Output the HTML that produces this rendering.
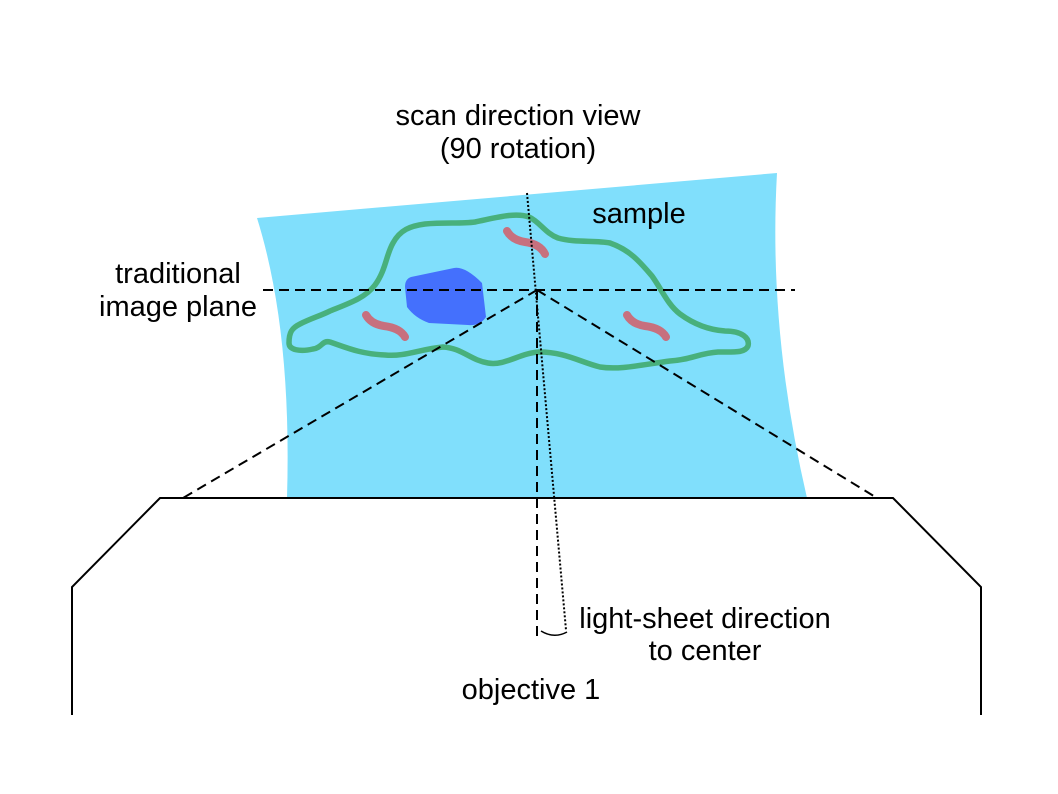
<!DOCTYPE html>
<html><head><meta charset="utf-8"><style>
html,body{margin:0;padding:0;background:#fff;}
svg{display:block;font-family:"Liberation Sans",sans-serif;}
</style></head><body>
<svg width="1058" height="794" viewBox="0 0 1058 794">
  <path d="M257,218 L777,173 Q768,330 807,498 L287,498 Q292,330 257,218 Z" fill="#80dffc"/>
  <path fill="none" stroke="#48b07c" stroke-width="5.5" stroke-linejoin="round"
    d="M289,343 C289,332 292,328 300,324 C312,318 320,316 330,311 C350,303 365,298 375,285 C386,270 386,255 393,243 C400,230 410,226 425,224 C445,222 460,224 475,222 C495,218 515,212 529,217 C540,222 545,233 558,238 C575,243 595,240 610,243 C630,250 640,262 652,276 C662,290 668,305 680,314 C695,325 710,330 725,331 C742,331 750,338 748,346 C745,353 735,352 718,352 C700,353 690,360 670,361 C640,365 620,370 600,367 C580,362 565,352 539,352 C520,353 505,366 488,363 C470,360 462,348 443,347 C420,349 405,357 385,355 C360,354 345,347 330,342 C322,340 322,348 313,349 C300,352 289,350 289,343 Z"/>
  <path fill="#4470fd" d="M411,277 L454,268 Q465,266 482,283 L486,317 Q480,326 468,325 L429,323 Q415,318 407,307 L405,287 Q405,279 411,277 Z"/>
  <path d="M507,231 Q512,240 525,242 Q540,244 545,254" fill="none" stroke="#c7707e" stroke-width="8" stroke-linecap="round"/>
  <path d="M366,315 Q371,324 384,326 Q400,328 405,337" fill="none" stroke="#c7707e" stroke-width="8" stroke-linecap="round"/>
  <path d="M627,315 Q632,324 645,326 Q661,328 666,337" fill="none" stroke="#c7707e" stroke-width="8" stroke-linecap="round"/>
  <g stroke="#000" stroke-width="2" fill="none" stroke-dasharray="10,6">
    <line x1="263" y1="290" x2="795" y2="290"/>
    <line x1="537" y1="290" x2="183" y2="498"/>
    <line x1="537" y1="290" x2="877" y2="498"/>
    <line x1="537" y1="290" x2="537" y2="636"/>
  </g>
  <line x1="527" y1="193" x2="566" y2="630" stroke="#000" stroke-width="2" stroke-dasharray="2,2"/>
  <path d="M541,631 Q554,639 567,632" fill="none" stroke="#000" stroke-width="1.5"/>
  <polyline points="72,715 72,587 160,498 893,498 981,587 981,715" fill="none" stroke="#000" stroke-width="2"/>
  <g font-size="29" fill="#000" text-anchor="middle">
    <text x="518" y="125">scan direction view</text>
    <text x="518" y="158">(90 rotation)</text>
    <text x="639" y="223">sample</text>
    <text x="178" y="283">traditional</text>
    <text x="178" y="316">image plane</text>
    <text x="705" y="628">light-sheet direction</text>
    <text x="705" y="660">to center</text>
    <text x="531" y="699">objective 1</text>
  </g>
</svg>
</body></html>
